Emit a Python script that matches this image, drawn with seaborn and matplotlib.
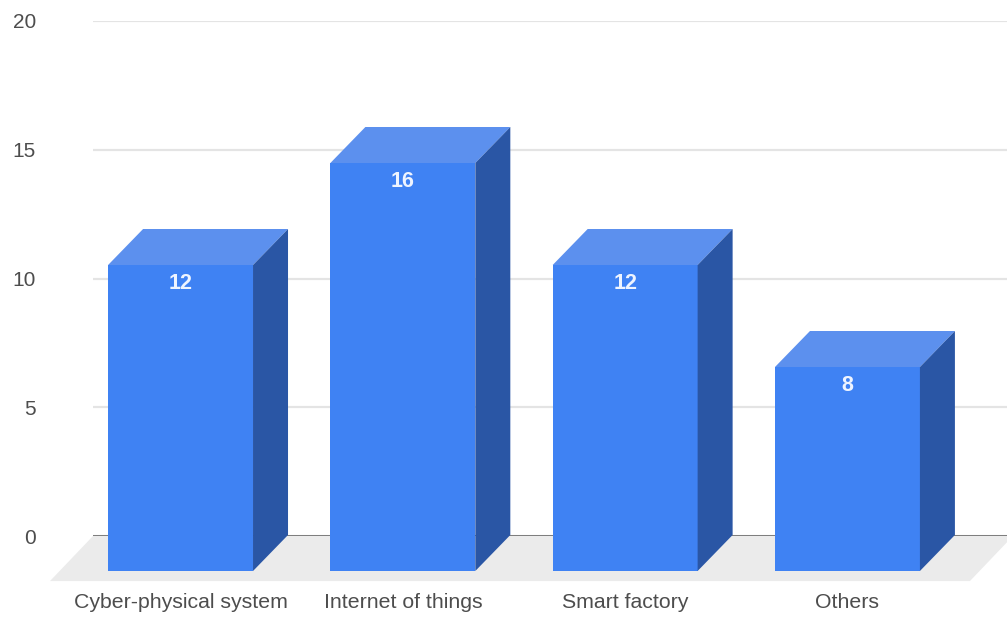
import matplotlib
matplotlib.use("Agg")
import matplotlib.pyplot as plt
from matplotlib.patches import Polygon
import pandas as pd
import seaborn as sns

categories = ["Cyber-physical system", "Internet of things", "Smart factory", "Others"]
values = [12, 16, 12, 8]
y_ticks = [0, 5, 10, 15, 20]

W, H = 1007, 617
FRONT = "#3f82f3"
TOP = "#5c90ee"
SIDE = "#2a56a5"
FLOOR = "#ebebeb"
GRID = "#e4e4e4"
TEXT = "#4d4d4d"

sns.set_theme(style="white")
plt.rcParams["font.family"] = ["Liberation Sans", "DejaVu Sans"]

fig = plt.figure(figsize=(W / 100, H / 100), dpi=100, facecolor="white")


def px_axes(left, right, top, bottom):
    return fig.add_axes([left / W, (H - bottom) / H, (right - left) / W, (bottom - top) / H])


# Back wall: gridlines, value axis and floor
back = px_axes(93, 1007, 21, 536)
back.set_xlim(0, 1)
back.set_ylim(0, 20)
back.set_yticks(y_ticks)
back.set_xticks([])
back.grid(axis="y", color=GRID, lw=1.6)
back.set_axisbelow(True)
sns.despine(ax=back, left=True, bottom=True)
back.tick_params(axis="y", length=0, pad=41, labelsize=15, labelcolor=TEXT)

floor_drop = 1.75
floor_dx = 43 / 914
back.add_patch(Polygon([(0, 0), (1.0065, 0), (1.0065 - floor_dx, -floor_drop), (-floor_dx, -floor_drop)],
                       closed=True, fc=FLOOR, ec="none", clip_on=False, zorder=1))
back.axhline(0, color="#6a6a6a", lw=1.2, zorder=2, clip_on=True)

# Front plane: bars
front = px_axes(69.4, 958.6, 61, 571)
front.patch.set_alpha(0)
df = pd.DataFrame({"category": categories, "value": values})
sns.barplot(data=df, x="category", y="value", color=FRONT, saturation=1, width=0.652, ax=front, zorder=3)
front.set_xlim(-0.5, 3.5)
front.set_ylim(0, 20)
front.set_xlabel("")
front.set_ylabel("")
front.set_yticks([])
sns.despine(ax=front, left=True, bottom=True)
front.tick_params(axis="x", length=0, pad=16, labelsize=15.3, labelcolor=TEXT)

depth_x = 35 / 222.3
depth_y = 36 / 25.5
for bar, v in zip(list(front.patches), values):
    x0, w = bar.get_x(), bar.get_width()
    x1 = x0 + w
    h = bar.get_height()
    bar.set_edgecolor("none")
    front.add_patch(Polygon([(x0, h), (x1, h), (x1 + depth_x, h + depth_y), (x0 + depth_x, h + depth_y)],
                            closed=True, fc=TOP, ec="none", clip_on=False, zorder=3))
    front.add_patch(Polygon([(x1, 0), (x1 + depth_x, depth_y), (x1 + depth_x, h + depth_y), (x1, h)],
                            closed=True, fc=SIDE, ec="none", clip_on=False, zorder=3))
    front.annotate(str(v), (x0 + w / 2, h), xytext=(0, -13), textcoords="offset points",
                   ha="center", va="center", color="#eef4ff", fontsize=15.5, fontweight="bold", zorder=4)

fig.savefig("out.png", dpi=100, facecolor="white")
